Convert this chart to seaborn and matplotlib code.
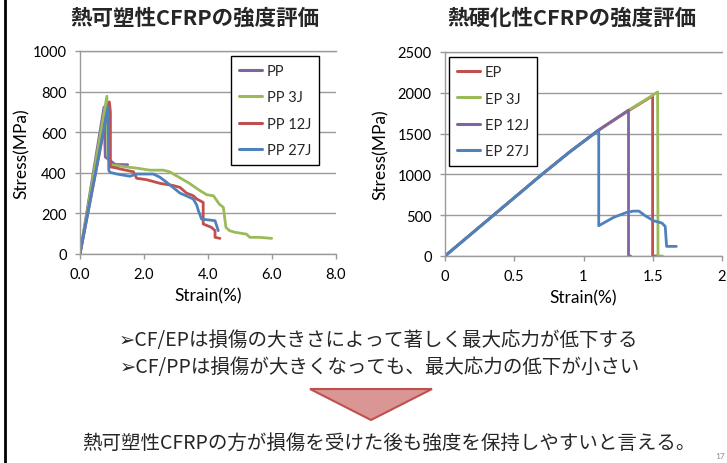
import numpy as np
import pandas as pd
import matplotlib
matplotlib.use("Agg")
import matplotlib.pyplot as plt
from matplotlib.patches import Polygon
from matplotlib.lines import Line2D
import seaborn as sns

# ---------------- data ----------------
pp_names = ["PP", "PP 3J", "PP 12J", "PP 27J"]
pp_colors = ["#8064A2", "#9BBB59", "#C0504D", "#4F81BD"]

pp_strain = [0.0, 0.75, 0.79, 1.0, 1.1, 1.49]
pp_stress = [0, 724, 478, 453, 441, 440]

pp3_strain = [0.0, 0.84, 0.875, 0.95, 1.04, 1.5, 1.77, 2.19, 2.6, 2.8, 3.125, 3.4, 3.75, 3.96,
              4.17, 4.35, 4.48, 4.56, 4.67, 4.84, 5.2, 5.31, 5.62, 5.99]
pp3_stress = [0, 777, 478, 440, 438, 428, 423, 413, 413, 405, 375, 350, 312, 292,
              287, 246, 230, 131, 115, 107, 98, 82, 82, 77]

pp12_strain = [0.0, 0.917, 0.95, 0.95, 1.1, 1.25, 1.67, 1.77, 2.08, 2.5, 2.92, 3.125, 3.33, 3.54,
               3.65, 3.85, 3.85, 4.11, 4.22, 4.22, 4.375]
pp12_stress = [0, 749, 700, 429, 425, 419, 405, 373, 366, 348, 337, 328, 300, 287,
               271, 254, 148, 131, 115, 82, 77]

pp27_strain = [0.0, 0.875, 0.9, 0.94, 1.15, 1.56, 1.77, 2.29, 2.5, 2.71, 3.125, 3.54, 3.65, 3.70,
               3.8, 4.22, 4.32]
pp27_stress = [0, 724, 412, 402, 394, 383, 394, 394, 378, 353, 300, 271, 240, 213,
               172, 164, 115]

ep_names = ["EP", "EP 3J", "EP 12J", "EP 27J"]
ep_colors = ["#C0504D", "#9BBB59", "#8064A2", "#4F81BD"]

ep_strain = [0.0, 0.35, 0.7, 0.9, 1.11, 1.325, 1.499, 1.499, 1.53]
ep_stress = [0, 500, 1000, 1275, 1542, 1780, 1962, 0, 0]

ep3_strain = [0.0, 0.35, 0.7, 0.9, 1.11, 1.325, 1.5, 1.535, 1.538, 1.57]
ep3_stress = [0, 500, 1000, 1275, 1545, 1787, 1970, 2011, 0, 0]

ep12_strain = [0.0, 0.35, 0.7, 0.9, 1.11, 1.325, 1.325, 1.34]
ep12_stress = [0, 500, 1000, 1275, 1545, 1787, 0, 0]

ep27_strain = [0.0, 0.35, 0.7, 0.9, 1.11, 1.11, 1.217, 1.313, 1.36, 1.40, 1.446, 1.506, 1.566,
               1.59, 1.60, 1.67]
ep27_stress = [0, 500, 1000, 1275, 1542, 371, 473, 535, 550, 550, 493, 432, 404,
               363, 118, 118]

pp_xticks = [0, 2, 4, 6, 8]
pp_xlabels = ["0.0", "2.0", "4.0", "6.0", "8.0"]
pp_yticks = [0, 200, 400, 600, 800, 1000]
ep_xticks = [0, 0.5, 1, 1.5, 2]
ep_xlabels = ["0", "0.5", "1", "1.5", "2"]
ep_yticks = [0, 500, 1000, 1500, 2000, 2500]

title_left = "熱可塑性CFRPの強度評価"
title_right = "熱硬化性CFRPの強度評価"
line1 = "➢CF/EPは損傷の大きさによって著しく最大応力が低下する"
line2 = "➢CF/PPは損傷が大きくなっても、最大応力の低下が小さい"
line3 = "熱可塑性CFRPの方が損傷を受けた後も強度を保持しやすいと言える。"


def long_df(names, xs, ys):
    frames = []
    for n, x, y in zip(names, xs, ys):
        frames.append(pd.DataFrame({"strain": x, "stress": y, "series": n}))
    return pd.concat(frames, ignore_index=True)


pp_df = long_df(pp_names, [pp_strain, pp3_strain, pp12_strain, pp27_strain],
                [pp_stress, pp3_stress, pp12_stress, pp27_stress])
ep_df = long_df(ep_names, [ep_strain, ep3_strain, ep12_strain, ep27_strain],
                [ep_stress, ep3_stress, ep12_stress, ep27_stress])

# ---------------- style ----------------
sns.set_theme(style="white")
plt.rcParams["font.family"] = ["Lato", "Noto Sans CJK JP", "DejaVu Sans"]
JP = ["Noto Sans CJK JP", "DejaVu Sans"]
GRID = "#9A9A9A"

W, H = 727, 464
fig = plt.figure(figsize=(W / 100, H / 100), dpi=100)
fig.patch.set_facecolor("white")


def px_axes(l, r, t, b):
    return fig.add_axes([l / W, 1 - b / H, (r - l) / W, (b - t) / H])


def style_axes(ax, xticks, xlabels, yticks, ylabelpad):
    ax.set_xticks(xticks)
    ax.set_xticklabels(xlabels)
    ax.set_yticks(yticks)
    ax.grid(axis="y", color=GRID, linewidth=1.0)
    ax.grid(axis="x", visible=False)
    for s in ["left", "bottom", "top"]:
        ax.spines[s].set_color(GRID)
        ax.spines[s].set_linewidth(1.0)
    ax.spines["right"].set_visible(False)
    ax.tick_params(axis="both", which="major", direction="out", length=3.6,
                   width=1.0, color=GRID, labelsize=10.5, labelcolor="black", pad=6,
                   bottom=True, left=True)
    ax.set_xlabel("Strain(%)", fontsize=12.5, labelpad=4, color="black")
    ax.set_ylabel("Stress(MPa)", fontsize=12.5, labelpad=ylabelpad, color="black")


def add_legend(ax, colors, names, anchor):
    handles = [Line2D([0], [0], color=c, lw=2.2) for c in colors]
    leg = ax.legend(handles, names, loc="upper left", bbox_to_anchor=anchor,
                    borderaxespad=0, frameon=True, fancybox=False, fontsize=10.5,
                    labelspacing=0.85, handlelength=1.55, handletextpad=0.35,
                    borderpad=0.55)
    fr = leg.get_frame()
    fr.set_edgecolor("black")
    fr.set_linewidth(1.0)
    fr.set_facecolor("white")
    fr.set_alpha(1)


# ---- left chart ----
axL = px_axes(80, 336, 52, 255)
sns.lineplot(data=pp_df, x="strain", y="stress", hue="series", hue_order=pp_names,
             palette=pp_colors, sort=False, estimator=None, units="series",
             linewidth=2.0, legend=False, ax=axL)
axL.set_xlim(0, 8)
axL.set_ylim(0, 1000)
style_axes(axL, pp_xticks, pp_xlabels, pp_yticks, 2)
add_legend(axL, pp_colors, pp_names, (0.59, 0.975))

# ---- right chart ----
axR = px_axes(445, 722, 53, 257)
sns.lineplot(data=ep_df, x="strain", y="stress", hue="series", hue_order=ep_names,
             palette=ep_colors, sort=False, estimator=None, units="series",
             linewidth=2.0, legend=False, ax=axR)
axR.set_xlim(0, 2)
axR.set_ylim(0, 2500)
style_axes(axR, ep_xticks, ep_xlabels, ep_yticks, 6)
add_legend(axR, ep_colors, ep_names, (0.014, 0.975))

# ---- titles ----
fig.text(195 / W, 1 - 18 / H, title_left, ha="center", va="center",
         fontsize=15.5, fontweight="bold", family=JP)
fig.text(572 / W, 1 - 18 / H, title_right, ha="center", va="center",
         fontsize=15.5, fontweight="bold", family=JP)

# ---- bullet text ----
fig.text(379 / W, 1 - 341 / H, line1, ha="center", va="center", fontsize=14, family=JP)
fig.text(380 / W, 1 - 368 / H, line2, ha="center", va="center", fontsize=14, family=JP)
fig.text(389 / W, 1 - 443 / H, line3, ha="center", va="center", fontsize=14, family=JP)

# ---- arrow triangle ----
tri = Polygon([(310 / W, 1 - 390 / H), (432 / W, 1 - 390 / H), (371 / W, 1 - 421 / H)],
              closed=True, transform=fig.transFigure, facecolor="#D99694",
              edgecolor="#C0504D", linewidth=1.5)
fig.patches.append(tri)

# ---- slide border line and page number ----
fig.add_artist(Line2D([5 / W, 5 / W], [0, 1], transform=fig.transFigure,
                      color="black", linewidth=2.0))
fig.text(715 / W, 1 - 453 / H, "17", ha="left", va="top", fontsize=6, color="#8C8C8C")

fig.savefig("out.png", dpi=100)
